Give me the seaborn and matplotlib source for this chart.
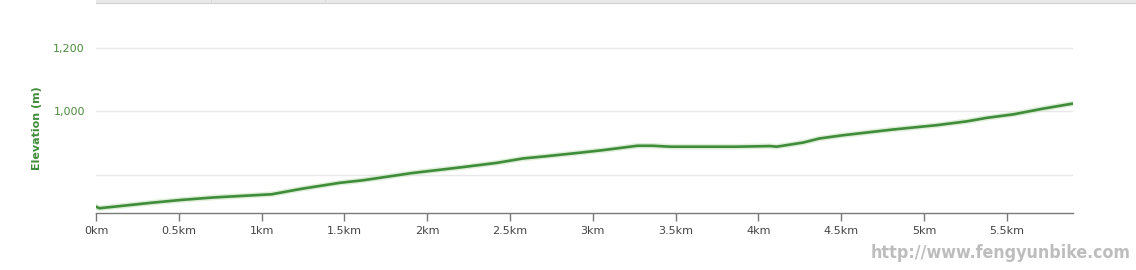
import matplotlib
matplotlib.use("Agg")
import matplotlib.pyplot as plt
import seaborn as sns
import pandas as pd
from matplotlib.patches import Rectangle
from matplotlib.ticker import FuncFormatter

# Data
distance_km = [0.0, 0.02, 0.33, 0.51, 0.71, 0.99, 1.06, 1.25, 1.47, 1.61, 1.91,
               2.22, 2.42, 2.58, 2.72, 2.92, 3.06, 3.27, 3.36, 3.47, 3.87, 4.07,
               4.11, 4.27, 4.37, 4.51, 4.81, 5.08, 5.26, 5.38, 5.54, 5.72, 5.90]
elevation_m = [699, 694, 711, 720, 728, 736, 738, 756, 774, 782, 805,
               824, 837, 851, 858, 869, 877, 891, 891, 888, 888, 890,
               888, 901, 914, 924, 942, 956, 968, 979, 990, 1008, 1024]
x_ticks = [0, 0.5, 1, 1.5, 2, 2.5, 3, 3.5, 4, 4.5, 5, 5.5]
y_ticks = [800, 1000, 1200]
y_tick_labels = ["", "1,000", "1,200"]

df = pd.DataFrame({"km": distance_km, "elev": elevation_m})

sns.set_theme(style="white")
plt.rcParams["font.family"] = ["DejaVu Sans"]

W, H = 1136, 270
fig = plt.figure(figsize=(W / 100, H / 100), dpi=100)
ax = fig.add_axes([96 / W, (H - 213) / H, (1073 - 96) / W, (213 - 16) / H])

# glow + line
sns.lineplot(data=df, x="km", y="elev", ax=ax, color="#c8e4bf", linewidth=4.0,
             alpha=0.6, legend=False)
sns.lineplot(data=df, x="km", y="elev", ax=ax, color="#3f8c3a", linewidth=1.9,
             legend=False)

ax.set_xlim(0, 5.90)
ax.set_ylim(679, 1300)
ax.set_xticks(x_ticks)
ax.xaxis.set_major_formatter(FuncFormatter(lambda v, p: f"{v:g}km"))
ax.set_yticks(y_ticks)
ax.set_yticklabels(y_tick_labels)

ax.grid(axis="y", color="#e8e8e8", linewidth=1)
ax.grid(axis="x", visible=False)
ax.set_axisbelow(True)
for s in ["top", "right", "left"]:
    ax.spines[s].set_visible(False)
ax.spines["bottom"].set_color("#7a7a7a")
ax.spines["bottom"].set_linewidth(1)

ax.tick_params(axis="x", direction="out", length=6, width=1, color="#7a7a7a",
               labelsize=8, labelcolor="#444444", pad=3, bottom=True)
ax.tick_params(axis="y", length=0, labelsize=8, labelcolor="#4a8a3c", pad=8)

ax.set_xlabel("")
ax.set_ylabel("Elevation (m)", color="#3f8c3a", fontsize=8, fontweight="bold",
              labelpad=0)
ax.yaxis.set_label_coords(-54 / (1073 - 96), (213 - 128) / (213 - 16))

# top web tab bar
fig.patches.append(Rectangle((96 / W, (H - 4) / H), (W - 96) / W, 4 / H,
                             transform=fig.transFigure, facecolor="#e9e9e9",
                             edgecolor="none"))
fig.patches.append(Rectangle((96 / W, (H - 4) / H), (W - 96) / W, 1 / H,
                             transform=fig.transFigure, facecolor="#cfcfcf",
                             edgecolor="none"))
for sx in [211, 325]:
    fig.patches.append(Rectangle((sx / W, (H - 4) / H), 1 / W, 4 / H,
                                 transform=fig.transFigure, facecolor="#d8d8d8",
                                 edgecolor="none"))

# watermark
fig.text(1131 / W, (H - 253) / H, "http://www.fengyunbike.com", ha="right",
         va="center", fontsize=12.8, fontweight="bold", color="#bdbdbd",
         fontstretch="condensed", family=["DejaVu Sans"])

fig.savefig("out.png", dpi=100)
